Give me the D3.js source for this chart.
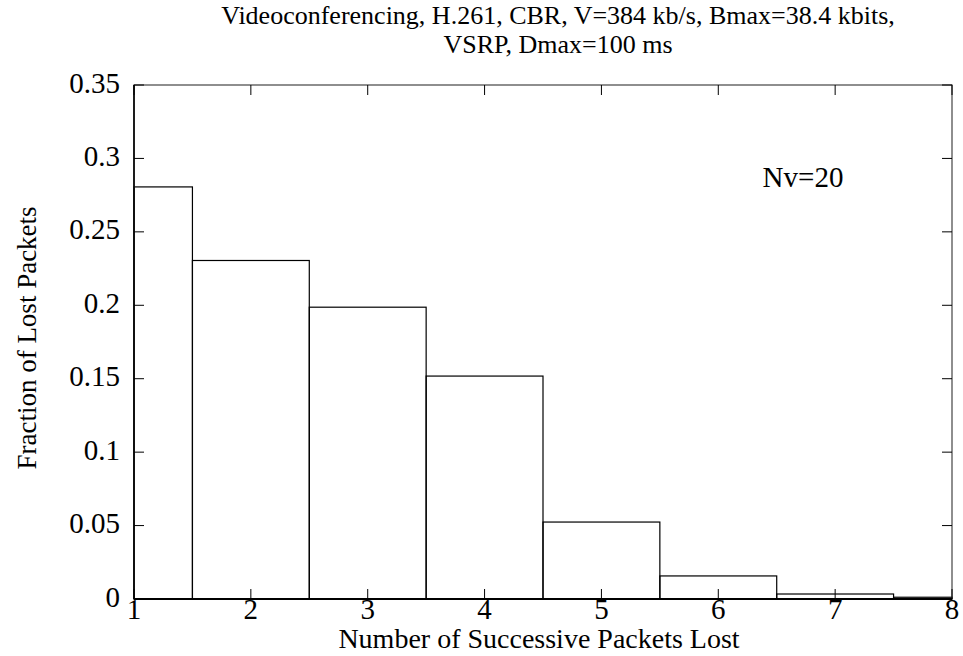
<!DOCTYPE html>
<html>
<head>
<meta charset="utf-8">
<script src="https://cdn.jsdelivr.net/npm/d3@7"></script>
<style>
  html, body { margin: 0; padding: 0; background: #fff; }
  svg { display: block; font-family: "Liberation Serif", "Times New Roman", serif; }
</style>
</head>
<body>
<svg id="chart" width="963" height="656"></svg>
<script>
// Burst lengths (number of successive packets lost) and their fractions
const burstLengths = [1, 2, 3, 4, 5, 6, 7, 8];
const lossFractions = [0.2806, 0.2305, 0.1987, 0.1518, 0.0524, 0.0157, 0.0034, 0.0012];
const xTicks = [1, 2, 3, 4, 5, 6, 7, 8];
const yTicks = [0, 0.05, 0.1, 0.15, 0.2, 0.25, 0.3, 0.35];
const titleLines = ["Videoconferencing, H.261, CBR, V=384 kb/s, Bmax=38.4 kbits,", "VSRP, Dmax=100 ms"];

const svg = d3.select("#chart");
const margin = { left: 134, right: 11, top: 85, bottom: 57 };
const W = 963, H = 656;

const x = d3.scaleLinear().domain([1, 8]).range([margin.left, W - margin.right]);
const y = d3.scaleLinear().domain([0, 0.35]).range([H - margin.bottom, margin.top]);

// Bars: unit-wide bins centred on each burst length, clipped to the axis range
const bars = svg.append("g");
burstLengths.forEach((b, i) => {
  const x0 = Math.max(1, b - 0.5), x1 = Math.min(8, b + 0.5);
  bars.append("rect")
    .attr("x", x(x0))
    .attr("y", y(lossFractions[i]))
    .attr("width", x(x1) - x(x0))
    .attr("height", y(0) - y(lossFractions[i]))
    .attr("fill", "none")
    .attr("stroke", "#000")
    .attr("stroke-width", 1.2);
});

// Frame with inward ticks on all four sides
const tickLen = 10;
const frame = svg.append("g").attr("stroke", "#000").attr("fill", "none");
frame.append("rect")
  .attr("x", x(1)).attr("y", y(0.35))
  .attr("width", x(8) - x(1)).attr("height", y(0) - y(0.35))
  .attr("stroke", "#444").attr("stroke-width", 1.2);
frame.append("line").attr("x1", x(1)).attr("x2", x(8)).attr("y1", y(0)).attr("y2", y(0)).attr("stroke-width", 2);
frame.append("line").attr("x1", x(1)).attr("x2", x(1)).attr("y1", y(0)).attr("y2", y(0.35)).attr("stroke-width", 1.6);

xTicks.forEach(t => {
  frame.append("line").attr("x1", x(t)).attr("x2", x(t)).attr("y1", y(0)).attr("y2", y(0) - tickLen).attr("stroke-width", 1);
  frame.append("line").attr("x1", x(t)).attr("x2", x(t)).attr("y1", y(0.35)).attr("y2", y(0.35) + tickLen).attr("stroke-width", 1);
});
yTicks.forEach(t => {
  frame.append("line").attr("x1", x(1)).attr("x2", x(1) + tickLen).attr("y1", y(t)).attr("y2", y(t)).attr("stroke-width", 1);
  frame.append("line").attr("x1", x(8)).attr("x2", x(8) - tickLen).attr("y1", y(t)).attr("y2", y(t)).attr("stroke-width", 1);
});

// Tick labels
const labels = svg.append("g").attr("fill", "#000").attr("font-size", 29);
xTicks.forEach(t => {
  labels.append("text").attr("x", x(t)).attr("y", y(0) + 20)
    .attr("text-anchor", "middle").text(t);
});
yTicks.forEach(t => {
  labels.append("text").attr("x", x(1) - 14).attr("y", y(t) + 7.5)
    .attr("text-anchor", "end").text(String(t));
});

// Axis titles
svg.append("text").attr("x", 539).attr("y", 648)
  .attr("text-anchor", "middle").attr("font-size", 28).text("Number of Successive Packets Lost");
svg.append("text").attr("transform", "translate(36,338) rotate(-90)")
  .attr("text-anchor", "middle").attr("font-size", 27).text("Fraction of Lost Packets");

// Two-line chart title
const title = svg.append("text")
  .attr("text-anchor", "middle").attr("font-size", 26);
titleLines.forEach((line, i) => {
  title.append("tspan").attr("x", 558).attr("y", 24 + i * 29).text(line);
});

// Annotation
svg.append("text").attr("x", 803).attr("y", 187)
  .attr("text-anchor", "middle").attr("font-size", 29).text("Nv=20");
</script>
</body>
</html>
